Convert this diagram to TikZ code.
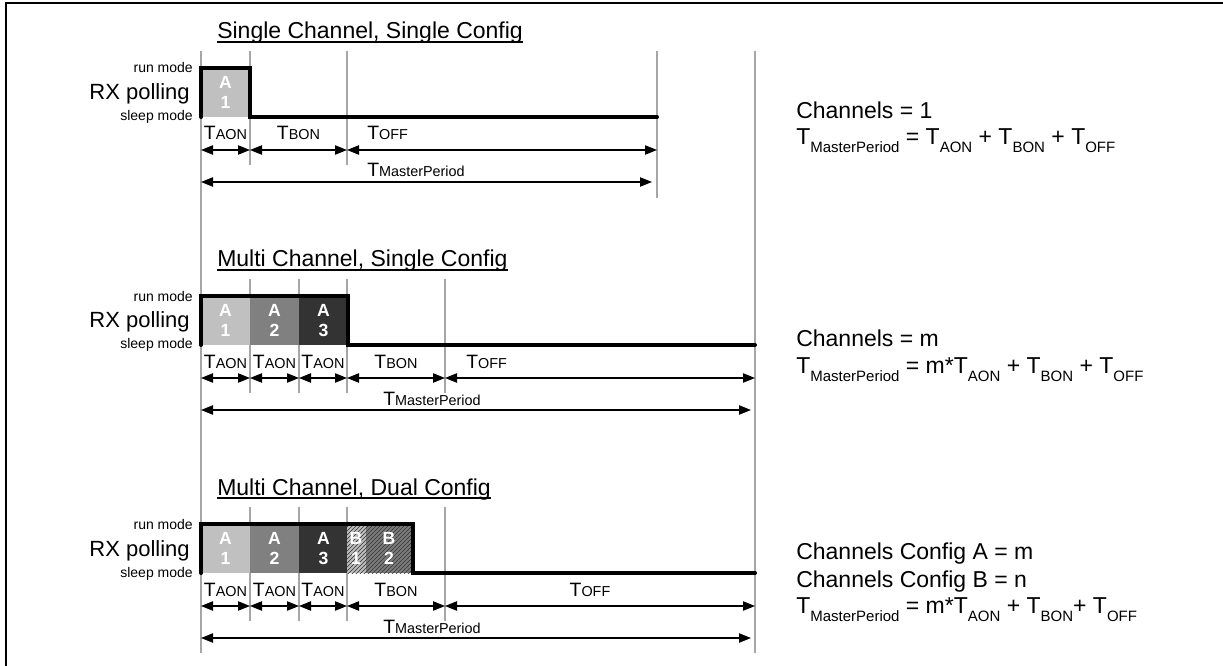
\documentclass[tikz,border=0pt]{standalone}
\usepackage{fontspec}
\setmainfont{Liberation Sans}
\usetikzlibrary{arrows.meta,patterns}

\definecolor{chA}{HTML}{C0C0C0}
\definecolor{chB}{HTML}{808080}
\definecolor{chC}{HTML}{333333}
\definecolor{chD}{HTML}{BDBDBD}
\definecolor{chE}{HTML}{7C7C7C}
\definecolor{guidegray}{HTML}{A6A6A6}

\newcommand{\tlab}[1]{{\fontsize{14.5}{16}\selectfont T}#1}
\newcommand{\rsub}[1]{\raisebox{-6pt}{\fontsize{11.25}{13}\selectfont #1}}

\begin{document}
\begin{tikzpicture}[x=0.75pt, y=-0.75pt, >={Triangle[length=9pt,width=7pt]},
    guide/.style={draw=guidegray, line width=0.9pt},
    sig/.style={line width=3pt, line cap=round},
    dim/.style={<->, line width=0.9pt},
    lab/.style={font=\fontsize{10.8}{12}\selectfont, inner sep=0, anchor=base},
    boxlab/.style={text=white, font=\bfseries\fontsize{13.2}{14.5}\selectfont, align=center, inner sep=0},
    heading/.style={font=\fontsize{17.25}{20}\selectfont, inner sep=0, anchor=base west},
    mode/.style={font=\fontsize{10.5}{12}\selectfont, inner sep=0, anchor=base east},
    rtext/.style={font=\fontsize{17.25}{20}\selectfont, inner sep=0, anchor=base west}]
  \useasboundingbox (0,0) rectangle (1223,666);
  \draw[line width=1.5pt] (6,666) -- (6,3) -- (1223,3);

  % headings and left labels
  \foreach \o/\t in {0/{Single Channel, Single Config},228/{Multi Channel, Single Config},456/{Multi Channel, Dual Config}} {
    \node[heading] (head\o) at (217,39+\o) {\t};
    \draw[line width=1.3pt] ([yshift=-2.3pt]head\o.base west) -- ([yshift=-2.3pt]head\o.base east);
    \node[mode] (run\o) at (193,73+\o) {run mode};
    \node[font=\fontsize{16.5}{18}\selectfont, inner sep=0, anchor=base east] (rx\o) at (190,100+\o) {RX polling};
    \node[mode] (sleep\o) at (193,121+\o) {sleep mode};
  }

  % guide lines
  \draw[guide] (201,51) -- (201,653);
  \draw[guide] (755,51) -- (755,653);
  \foreach \x in {250,347} \draw[guide] (\x,51) -- (\x,165);
  \draw[guide] (657,51) -- (657,198);
  \foreach \o in {228,456} \foreach \x in {250,299,347,445} \draw[guide] (\x,51+\o) -- (\x,165+\o);

  % channel slots
  \fill[chA] (201,68) rectangle (250,117);
  \node[boxlab] (a1) at (225.5,92.5) {A\\1};
  \foreach \o in {228,456} \foreach \c/\x/\n in {chA/201/1,chB/250/2,chC/299/3} {
    \fill[\c] (\x,68+\o) rectangle ++(48.5,49);
    \node[boxlab] (a\n\o) at (\x+24.5,92.5+\o) {A\\\n};
  }
  \fill[chD] (347,524) rectangle (366,573);
  \fill[chE] (366,524) rectangle (413,573);
  \fill[pattern=north east lines, pattern color=black!80] (347,524) rectangle (413,573);
  \node[boxlab] (b1) at (356,548.5) {B\\1};
  \node[boxlab] (b2) at (389,548.5) {B\\2};

  % RX signal
  \draw[sig] (201,117) -- (201,68) -- (250,68) -- (250,117) -- (657,117);
  \draw[sig] (201,345) -- (201,296) -- (348,296) -- (348,345) -- (755,345);
  \draw[sig] (201,573) -- (201,524) -- (413,524) -- (413,573) -- (755,573);

  % timing arrows
  \foreach \a/\b in {201/250,250/347,347/657} \draw[dim] (\a,150) -- (\b,150);
  \draw[dim] (201,182) -- (652,182);
  \foreach \o in {228,456} {
    \foreach \a/\b in {201/250,250/299,299/347,347/445,445/755} \draw[dim] (\a,150+\o) -- (\b,150+\o);
    \draw[dim] (201,182+\o) -- (751,182+\o);
  }

  % timing labels
  \node[lab] (aon0) at (225.5,140) {\tlab{AON}};
  \node[lab] (bon0) at (298.5,140) {\tlab{BON}};
  \node[lab, anchor=base west] (off0) at (367,140) {\tlab{OFF}};
  \node[lab, anchor=base west] (mp0) at (367,177) {\tlab{MasterPeriod}};
  \foreach \o/\offx/\offa in {228/466/base west,456/590/base} {
    \foreach \x [count=\i] in {225.5,274.5,323} \node[lab] (aon\i\o) at (\x,140+\o) {\tlab{AON}};
    \node[lab] (bon\o) at (396,140+\o) {\tlab{BON}};
    \node[lab, anchor=\offa] (off\o) at (\offx,140+\o) {\tlab{OFF}};
    \node[lab, anchor=base west] (mp\o) at (383,177+\o) {\tlab{MasterPeriod}};
  }

  % formulas
  \node[rtext] (ch0) at (796,119) {Channels = 1};
  \node[rtext] (eq0) at (796,145) {T\rsub{MasterPeriod} = T\rsub{AON} + T\rsub{BON} + T\rsub{OFF}};
  \node[rtext] (ch228) at (796,346) {Channels = m};
  \node[rtext] (eq228) at (796,373) {T\rsub{MasterPeriod} = m*T\rsub{AON} + T\rsub{BON} + T\rsub{OFF}};
  \node[rtext] (cha456) at (796,559) {Channels Config A = m};
  \node[rtext] (chb456) at (796,587) {Channels Config B = n};
  \node[rtext] (eq456) at (796,613) {T\rsub{MasterPeriod} = m*T\rsub{AON} + T\rsub{BON}+ T\rsub{OFF}};
\end{tikzpicture}
\end{document}
